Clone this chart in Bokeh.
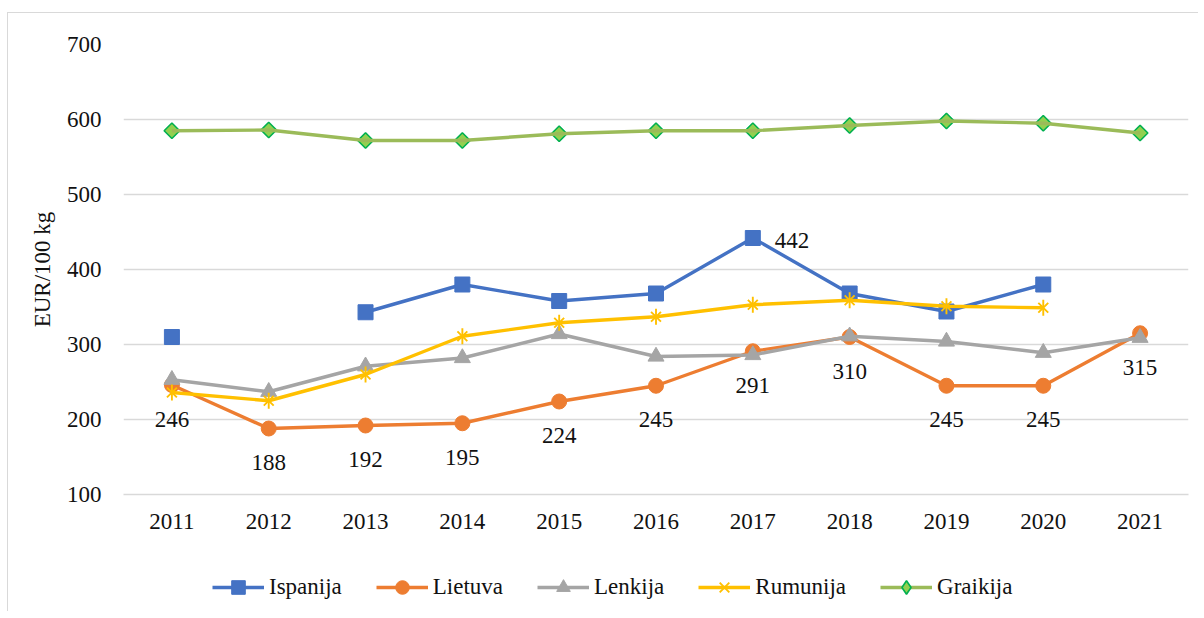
import math
from bokeh.plotting import figure
from bokeh.layouts import column
from bokeh.models import Range1d, FactorRange, Legend, LegendItem
from bokeh.core.properties import value
from bokeh.embed import file_html
from bokeh.resources import INLINE

NaN = float("nan")

years = ["2011", "2012", "2013", "2014", "2015", "2016", "2017", "2018", "2019", "2020", "2021"]
ispanija = [310, NaN, 343, 380, 358, 368, 442, 368, 344, 380, NaN]
lietuva = [246, 188, 192, 195, 224, 245, 291, 310, 245, 245, 315]
lenkija = [253, 237, 271, 282, 314, 284, 286, 311, 304, 289, 309]
rumunija = [236, 225, 260, 311, 329, 337, 353, 359, 351, 349, NaN]
graikija = [585, 586, 572, 572, 581, 585, 585, 592, 598, 595, 582]
y_ticks = [100, 200, 300, 400, 500, 600, 700]

series_names = ["Ispanija", "Lietuva", "Lenkija", "Rumunija", "Graikija"]

FONT = "Liberation Serif"
FS = "23px"
TXT = "#111111"
GRID = "#d9d9d9"
LW = 3.4

p = figure(
    width=1190, height=530,
    x_range=FactorRange(*years, range_padding=0),
    y_range=Range1d(100, 700),
    output_backend="svg", toolbar_location=None,
    min_border_left=115, min_border_right=10, min_border_top=31, min_border_bottom=49,
    background_fill_color="white", border_fill_color="white",
)
p.outline_line_color = None

p.yaxis.ticker = y_ticks
p.ygrid.grid_line_color = GRID
p.ygrid.grid_line_width = 1.3
p.xgrid.grid_line_color = None

p.yaxis.axis_line_color = None
p.yaxis.major_tick_line_color = None
p.yaxis.minor_tick_line_color = None
p.yaxis.major_label_text_font = FONT
p.yaxis.major_label_text_font_size = FS
p.yaxis.major_label_text_color = TXT
p.yaxis.major_label_standoff = 16
p.yaxis.axis_label = "EUR/100 kg"
p.yaxis.axis_label_text_font = FONT
p.yaxis.axis_label_text_font_size = FS
p.yaxis.axis_label_text_font_style = "normal"
p.yaxis.axis_label_text_color = TXT
p.yaxis.axis_label_standoff = 9

p.xaxis.axis_line_color = GRID
p.xaxis.axis_line_width = 1.3
p.xaxis.major_tick_line_color = None
p.xaxis.minor_tick_line_color = None
p.xaxis.major_label_text_font = FONT
p.xaxis.major_label_text_font_size = FS
p.xaxis.major_label_text_color = TXT
p.xaxis.major_label_standoff = 13


def draw(fig, xs, ys, legend_mode=False):
    rs = []
    c = "#4472C4"
    rs.append([fig.line(xs, ys[0], line_color=c, line_width=LW),
               fig.scatter(xs, ys[0], marker="square", size=15, fill_color=c, line_color=c)])
    c = "#ED7D31"
    rs.append([fig.line(xs, ys[1], line_color=c, line_width=LW),
               fig.scatter(xs, ys[1], marker="circle", size=15, fill_color=c, line_color=c)])
    c = "#A5A5A5"
    rs.append([fig.line(xs, ys[2], line_color=c, line_width=LW),
               fig.scatter(xs, ys[2], marker="triangle", size=16, fill_color=c, line_color=c)])
    c = "#FFC000"
    rs.append([fig.line(xs, ys[3], line_color=c, line_width=LW),
               fig.scatter(xs, ys[3], marker="x", size=14, line_color=c, line_width=1.9),
               fig.scatter(xs, ys[3], marker="dash", angle=math.pi / 2, size=16, line_color=c, line_width=1.9)])
    if legend_mode:
        gm = fig.scatter(xs, ys[4], marker="diamond", size=15,
                         fill_color="#92D050", line_color="#00B050", line_width=1.6)
    else:
        gm = fig.scatter(xs, ys[4], marker="square", angle=math.pi / 4, size=11,
                         fill_color="#92D050", line_color="#00B050", line_width=1.6)
    rs.append([fig.line(xs, ys[4], line_color="#9BBB59", line_width=LW), gm])
    return rs


all_series = [ispanija, lietuva, lenkija, rumunija, graikija]
draw(p, years, all_series)

# data labels
p.text(years, lietuva, text=[str(v) for v in lietuva], y_offset=34,
       text_align="center", text_baseline="middle",
       text_font=value(FONT), text_font_size=FS, text_color=TXT)
p.text([years[6]], [ispanija[6]], text=[str(ispanija[6])], x_offset=22, y_offset=2,
       text_align="left", text_baseline="middle",
       text_font=value(FONT), text_font_size=FS, text_color=TXT)

# legend strip: a separate figure whose visible range holds no data,
# so only its (unclipped) legend shows
lf = figure(
    width=1190, height=68, x_range=FactorRange(*years, range_padding=0), y_range=Range1d(2000, 2001),
    x_axis_type=None, y_axis_type=None,
    output_backend="svg", toolbar_location=None,
    min_border=0, background_fill_color="white", border_fill_color="white",
)
lf.outline_line_color = None
lf.grid.visible = False
leg_rs = draw(lf, years, all_series, legend_mode=True)

legend = Legend(
    items=[LegendItem(label=n, renderers=r) for n, r in zip(series_names, leg_rs)],
    orientation="horizontal",
    location=(89, 7),
    label_text_font=FONT, label_text_font_size=FS, label_text_color=TXT,
    glyph_width=52, glyph_height=34, label_standoff=5, spacing=34,
    padding=0, margin=0, border_line_color=None, background_fill_alpha=0,
)
lf.add_layout(legend, "center")

layout = column(p, lf, spacing=0,
                styles={"border-top": "1px solid #d9d9d9", "border-left": "1px solid #d9d9d9",
                        "margin-top": "12px", "margin-left": "7px"})

open("out.html", "w").write(file_html(layout, INLINE))
